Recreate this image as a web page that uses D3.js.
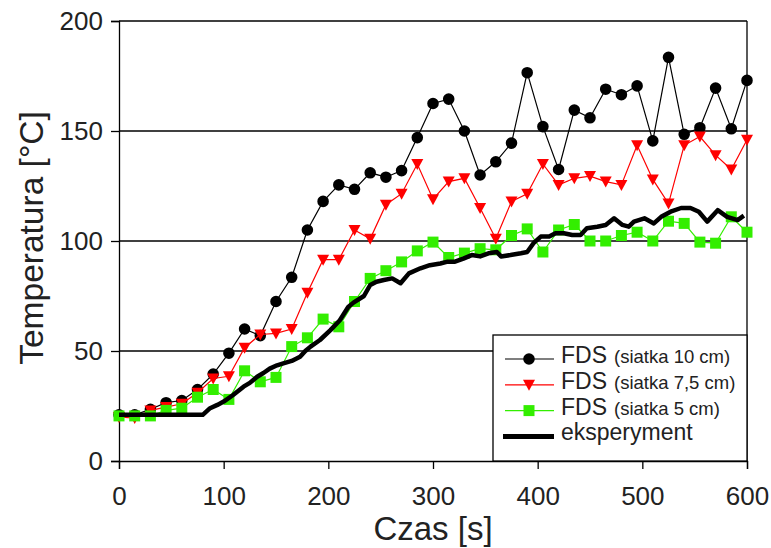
<!DOCTYPE html>
<html>
<head>
<meta charset="utf-8">
<script src="https://cdn.jsdelivr.net/npm/d3@7"></script>
<style>
  html, body { margin: 0; padding: 0; background: #fff; }
  svg { display: block; font-family: "Liberation Sans", Arial, sans-serif; }
</style>
</head>
<body>
<svg id="chart" width="771" height="548"></svg>
<script>
// Simulation output times (s), every 15 s
const fdsTimes = d3.range(0, 601, 15);

// FDS, grid 10 cm
const fds10 = [21, 21, 23.5, 26.5, 27.5, 32.5, 39.5, 49, 60, 57, 72.5, 83.5, 105, 118,
  125.5, 123.5, 131, 129, 132, 147, 162.5, 164.5, 150, 130, 136, 144.5, 176.5, 152,
  132.5, 159.5, 156, 169, 166.5, 170.5, 145.5, 183.5, 148.5, 151.5, 169.5, 151, 173];

// FDS, grid 7.5 cm
const fds75 = [20, 19.5, 23, 24.5, 26, 31, 37.5, 38.5, 51.5, 57.5, 58, 60, 76.5, 91.5,
  91.5, 105, 101, 116.5, 121.5, 135, 119, 127, 128.5, 115, 101, 118, 121.5, 135,
  125.5, 128.5, 129.5, 127, 125.5, 143.5, 128, 117, 143.5, 147.5, 139, 132.5, 146];

// FDS, grid 5 cm
const fds5 = [20.5, 20.5, 20.5, 23, 24, 29, 32.5, 28, 41, 36, 38, 52, 56, 64.5,
  61, 72.5, 83, 86.5, 90.5, 95.5, 99.5, 92.5, 94.5, 96.5, 96, 102.5, 105.5, 95,
  105, 107.5, 100, 100, 102.5, 104, 100, 109, 108, 99.5, 99, 111, 104];

// Measured temperature
const expTimes = [0, 80, 87, 94, 100, 109, 119, 125, 132, 138, 144, 151, 157, 165, 173,
  178, 183, 192, 202, 211, 219, 224, 234, 240, 246, 253, 261, 269, 277, 288, 297, 307,
  314, 321, 329, 337, 345, 353, 361, 365, 374, 384, 390, 396, 403, 411, 417, 425, 433,
  441, 447, 457, 465, 473, 481, 487, 492, 502, 511, 518, 527, 537, 546, 554, 562, 572,
  581, 591, 597];
const expValues = [21, 21, 24, 25.5, 27, 30, 33.8, 35.5, 38.3, 40, 42, 43.5, 44.4, 45.5,
  47.4, 50, 52, 55, 59.5, 64, 70, 72, 75, 80, 81.5, 82.3, 83, 80.8, 85.3, 87.6, 89,
  89.8, 90.6, 90.6, 92, 93.6, 93, 94.4, 95, 93, 93.6, 94.4, 95, 99, 102, 102, 103.5,
  103.5, 102.7, 102.7, 105.8, 106.5, 107.3, 110.3, 107.3, 106.5, 108.8, 110.3, 108,
  111, 113.3, 115, 115, 113.3, 108.8, 114, 111, 109.5, 111.5];

const xTicks = [0, 100, 200, 300, 400, 500, 600];
const yTicks = [0, 50, 100, 150, 200];
const legendLabels = ["FDS", "FDS", "FDS", "eksperyment"];
const legendNotes = ["(siatka 10 cm)", "(siatka 7,5 cm)", "(siatka 5 cm)", ""];

const svg = d3.select("#chart");
const plotLeft = 119, plotRight = 747, plotTop = 21, plotBottom = 461;

const x = d3.scaleLinear().domain([0, 600]).range([plotLeft, plotRight]);
const y = d3.scaleLinear().domain([0, 200]).range([plotBottom, plotTop]);

// Horizontal grid lines and frame
svg.append("g").selectAll("line")
  .data(yTicks.filter(v => v > 0))
  .join("line")
  .attr("x1", plotLeft).attr("x2", plotRight)
  .attr("y1", d => y(d)).attr("y2", d => y(d))
  .attr("stroke", "#000").attr("stroke-width", 1.3);
svg.append("line")
  .attr("x1", plotRight).attr("x2", plotRight).attr("y1", plotTop).attr("y2", plotBottom)
  .attr("stroke", "#000").attr("stroke-width", 1.3);

// Axes
const xAxis = svg.append("g").attr("transform", `translate(0,${plotBottom})`)
  .call(d3.axisBottom(x).tickValues(xTicks).tickSize(8).tickPadding(18));
const yAxis = svg.append("g").attr("transform", `translate(${plotLeft},0)`)
  .call(d3.axisLeft(y).tickValues(yTicks).tickSize(8).tickPadding(8));
[xAxis, yAxis].forEach(g => {
  g.select(".domain").attr("stroke", "#000").attr("stroke-width", 1.3);
  g.selectAll(".tick line").attr("stroke", "#000").attr("stroke-width", 1.3);
  g.selectAll(".tick text")
    .attr("fill", "#222")
    .style("font-size", "26px")
    .style("font-family", "'Liberation Sans', Arial, sans-serif");
});

// Series
const series = [
  { values: fds10, color: "#000", marker: "circle" },
  { values: fds75, color: "#ff0000", marker: "triangle" },
  { values: fds5, color: "#33ee00", marker: "square" }
];
const markerPath = {
  circle: d3.symbol().type(d3.symbolCircle).size(105)(),
  triangle: "M-6,-5L6,-5L0,6Z",
  square: "M-5.5,-5.5H5.5V5.5H-5.5Z"
};

const line = d3.line().x(d => x(d[0])).y(d => y(d[1]));

series.forEach(s => {
  const pts = fdsTimes.map((t, i) => [t, s.values[i]]);
  const g = svg.append("g");
  g.append("path").datum(pts)
    .attr("d", line)
    .attr("fill", "none").attr("stroke", s.color).attr("stroke-width", 1.2);
  g.selectAll("path.m").data(pts).join("path")
    .attr("class", "m")
    .attr("d", markerPath[s.marker])
    .attr("transform", d => `translate(${x(d[0])},${y(d[1])})`)
    .attr("fill", s.color);
});

// Experiment
svg.append("path")
  .datum(expTimes.map((t, i) => [t, expValues[i]]))
  .attr("d", line)
  .attr("fill", "none").attr("stroke", "#000")
  .attr("stroke-width", 4.5).attr("stroke-linejoin", "round");

// Legend
const lg = svg.append("g");
lg.append("rect")
  .attr("x", 493).attr("y", 335).attr("width", plotRight - 493).attr("height", plotBottom - 335)
  .attr("fill", "#fff").attr("stroke", "#000").attr("stroke-width", 1.3);
const legendRows = [...series, { color: "#000", marker: null }];
legendRows.forEach((s, i) => {
  const base = 363 + i * 25.8;
  const cy = base - 4;
  lg.append("line")
    .attr("x1", s.marker ? 505 : 503).attr("x2", 554).attr("y1", cy).attr("y2", cy)
    .attr("stroke", s.color).attr("stroke-width", s.marker ? 1.2 : 5);
  if (s.marker) {
    lg.append("path").attr("d", markerPath[s.marker])
      .attr("transform", `translate(529,${cy})`).attr("fill", s.color);
  }
  const t = lg.append("text")
    .attr("x", 561).attr("y", base)
    .attr("fill", "#222")
    .style("font-size", "23px");
  t.append("tspan").text(legendLabels[i]);
  if (legendNotes[i]) {
    t.append("tspan").attr("dx", 7).style("font-size", "18.5px").text(legendNotes[i]);
  }
});

// Axis titles
svg.append("text")
  .attr("x", x(300)).attr("y", 540)
  .attr("text-anchor", "middle")
  .attr("fill", "#222")
  .style("font-size", "33px")
  .text("Czas [s]");
svg.append("text")
  .attr("transform", `translate(43,238) rotate(-90)`)
  .attr("text-anchor", "middle")
  .attr("fill", "#222")
  .style("font-size", "33.5px")
  .text("Temperatura [°C]");
</script>
</body>
</html>
